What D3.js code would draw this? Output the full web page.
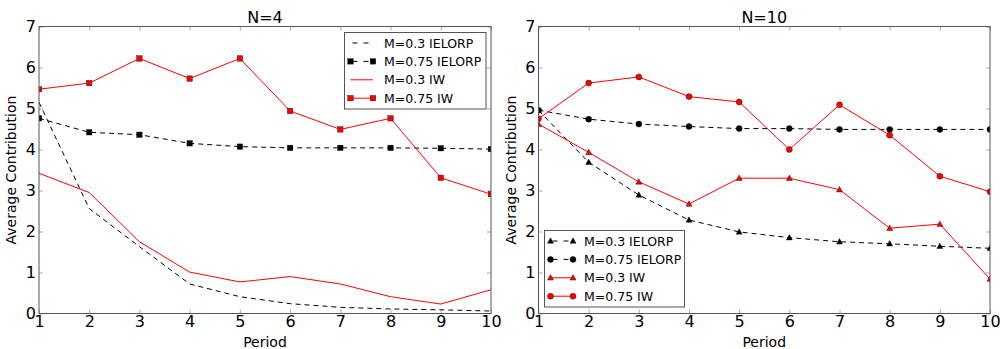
<!DOCTYPE html>
<html><head><meta charset="utf-8">
<script src="https://cdn.jsdelivr.net/npm/d3@7"></script>
<style>body{margin:0;background:#fff}svg{display:block}text{font-family:"DejaVu Sans",sans-serif;fill:#000}</style>
</head><body><svg id="c" width="1000" height="349"></svg>
<script>
const periods = [1,2,3,4,5,6,7,8,9,10];
const xTicks = [1,2,3,4,5,6,7,8,9,10];
const yTicks = [0,1,2,3,4,5,6,7];
// N=4
const n4_m03_ielorp = [5.15,2.56,1.63,0.72,0.41,0.24,0.15,0.11,0.09,0.06];
const n4_m075_ielorp = [4.76,4.42,4.36,4.15,4.07,4.04,4.04,4.04,4.03,4.01];
const n4_m03_iw = [3.42,2.95,1.75,1.01,0.77,0.90,0.72,0.41,0.23,0.58];
const n4_m075_iw = [5.47,5.62,6.22,5.73,6.22,4.94,4.49,4.76,3.31,2.91];
// N=10
const n10_m03_ielorp = [4.95,3.69,2.89,2.28,1.99,1.85,1.75,1.70,1.64,1.59];
const n10_m075_ielorp = [4.96,4.74,4.62,4.56,4.51,4.51,4.49,4.49,4.49,4.49];
const n10_m03_iw = [4.62,3.93,3.21,2.67,3.30,3.30,3.02,2.08,2.18,0.84];
const n10_m075_iw = [4.75,5.62,5.77,5.29,5.16,4.00,5.09,4.35,3.35,2.97];
const titles = ["N=4","N=10"];
const legendLabels = ["M=0.3 IELORP","M=0.75 IELORP","M=0.3 IW","M=0.75 IW"];

const panels = [
  {title:titles[0], x0:39, x1:491, legend:{x:344.5,y:32.5,w:141.5,h:76.5}, series:[
    {vals:n4_m03_ielorp, color:"#000", dash:"5,4", marker:null},
    {vals:n4_m075_ielorp, color:"#000", dash:"5,4", marker:"square"},
    {vals:n4_m03_iw, color:"#ff0000", dash:null, marker:null},
    {vals:n4_m075_iw, color:"#ff0000", dash:null, marker:"square"}]},
  {title:titles[1], x0:538.5, x1:990, legend:{x:544.5,y:230.5,w:140,h:76.5}, series:[
    {vals:n10_m03_ielorp, color:"#000", dash:"5,4", marker:"triangle"},
    {vals:n10_m075_ielorp, color:"#000", dash:"5,4", marker:"circle"},
    {vals:n10_m03_iw, color:"#ff0000", dash:null, marker:"triangle"},
    {vals:n10_m075_iw, color:"#ff0000", dash:null, marker:"circle"}]}
];
const yTop = 26.5, yBot = 313.5;
const svg = d3.select("#c");

function drawMarker(g, type, cx, cy, color){
  if(!type) return;
  let m;
  if(type==="square") m = g.append("rect").attr("x",cx-2.7).attr("y",cy-2.7).attr("width",5.4).attr("height",5.4);
  else if(type==="circle") m = g.append("circle").attr("cx",cx).attr("cy",cy).attr("r",3);
  else m = g.append("path").attr("d",`M${cx},${cy-3.2}L${cx+3},${cy+2.3}L${cx-3},${cy+2.3}Z`);
  m.attr("fill",color).attr("stroke","#000").attr("stroke-width",0.4);
}

panels.forEach((p,i)=>{
  const x = d3.scaleLinear().domain([1,10]).range([p.x0,p.x1]);
  const y = d3.scaleLinear().domain([0,7]).range([yBot,yTop]);
  const g = svg.append("g");
  const cid = "clip"+i;
  svg.append("clipPath").attr("id",cid).append("rect").attr("x",p.x0).attr("y",yTop).attr("width",p.x1-p.x0).attr("height",yBot-yTop);

  const ax = [
    {a:d3.axisBottom(x).tickValues(xTicks).tickSize(-4).tickPadding(2).tickFormat(d3.format("d")), t:`translate(0,${yBot})`},
    {a:d3.axisTop(x).tickValues(xTicks).tickSize(-4).tickFormat(""), t:`translate(0,${yTop})`},
    {a:d3.axisLeft(y).tickValues(yTicks).tickSize(-4).tickPadding(3).tickFormat(d3.format("d")), t:`translate(${p.x0},0)`},
    {a:d3.axisRight(y).tickValues(yTicks).tickSize(-4).tickFormat(""), t:`translate(${p.x1},0)`}
  ];
  ax.forEach(o=>{
    const ag = g.append("g").attr("transform",o.t).call(o.a);
    ag.select(".domain").remove();
    ag.selectAll(".tick line").attr("stroke","#aaa");
    ag.selectAll(".tick text").style("font-size","16px").attr("fill","#000");
  });

  const plot = g.append("g").attr("clip-path",`url(#${cid})`);
  const line = d3.line().x((d,j)=>x(periods[j])).y(d=>y(d));
  p.series.forEach(s=>{
    plot.append("path").attr("d",line(s.vals)).attr("fill","none")
      .attr("stroke",s.color).attr("stroke-width",1)
      .attr("stroke-dasharray",s.dash);
    s.vals.forEach((v,j)=>drawMarker(plot,s.marker,x(periods[j]),y(v),s.color));
  });

  g.append("rect").attr("x",p.x0).attr("y",yTop).attr("width",p.x1-p.x0).attr("height",yBot-yTop)
    .attr("fill","none").attr("stroke","#555").attr("stroke-width",1);

  const cx = (p.x0+p.x1)/2;
  g.append("text").attr("x",cx).attr("y",23).attr("text-anchor","middle").style("font-size","16px").text(p.title);
  g.append("text").attr("x",cx).attr("y",347).attr("text-anchor","middle").style("font-size","14px").text("Period");
  g.append("text").attr("transform",`translate(${p.x0-23},${(yTop+yBot)/2}) rotate(-90)`).attr("text-anchor","middle").style("font-size","14px").text("Average Contribution");

  const L = p.legend;
  const lg = g.append("g");
  lg.append("rect").attr("x",L.x).attr("y",L.y).attr("width",L.w).attr("height",L.h).attr("fill","#fff").attr("stroke","#555").attr("stroke-width",1);
  p.series.forEach((s,k)=>{
    const ry = L.y + 10.5 + k*18.4;
    const lx0 = L.x+6, lx1 = L.x+28.5;
    lg.append("line").attr("x1",lx0).attr("x2",lx1).attr("y1",ry).attr("y2",ry)
      .attr("stroke",s.color).attr("stroke-width",1).attr("stroke-dasharray",s.dash?"5,6":null)
      .attr("stroke-dashoffset",s.dash?-2:0);
    drawMarker(lg,s.marker,lx0,ry,s.color);
    drawMarker(lg,s.marker,lx1,ry,s.color);
    lg.append("text").attr("x",L.x+39.5).attr("y",ry+4.5).style("font-size","12.5px").text(legendLabels[k]);
  });
});
</script></body></html>
